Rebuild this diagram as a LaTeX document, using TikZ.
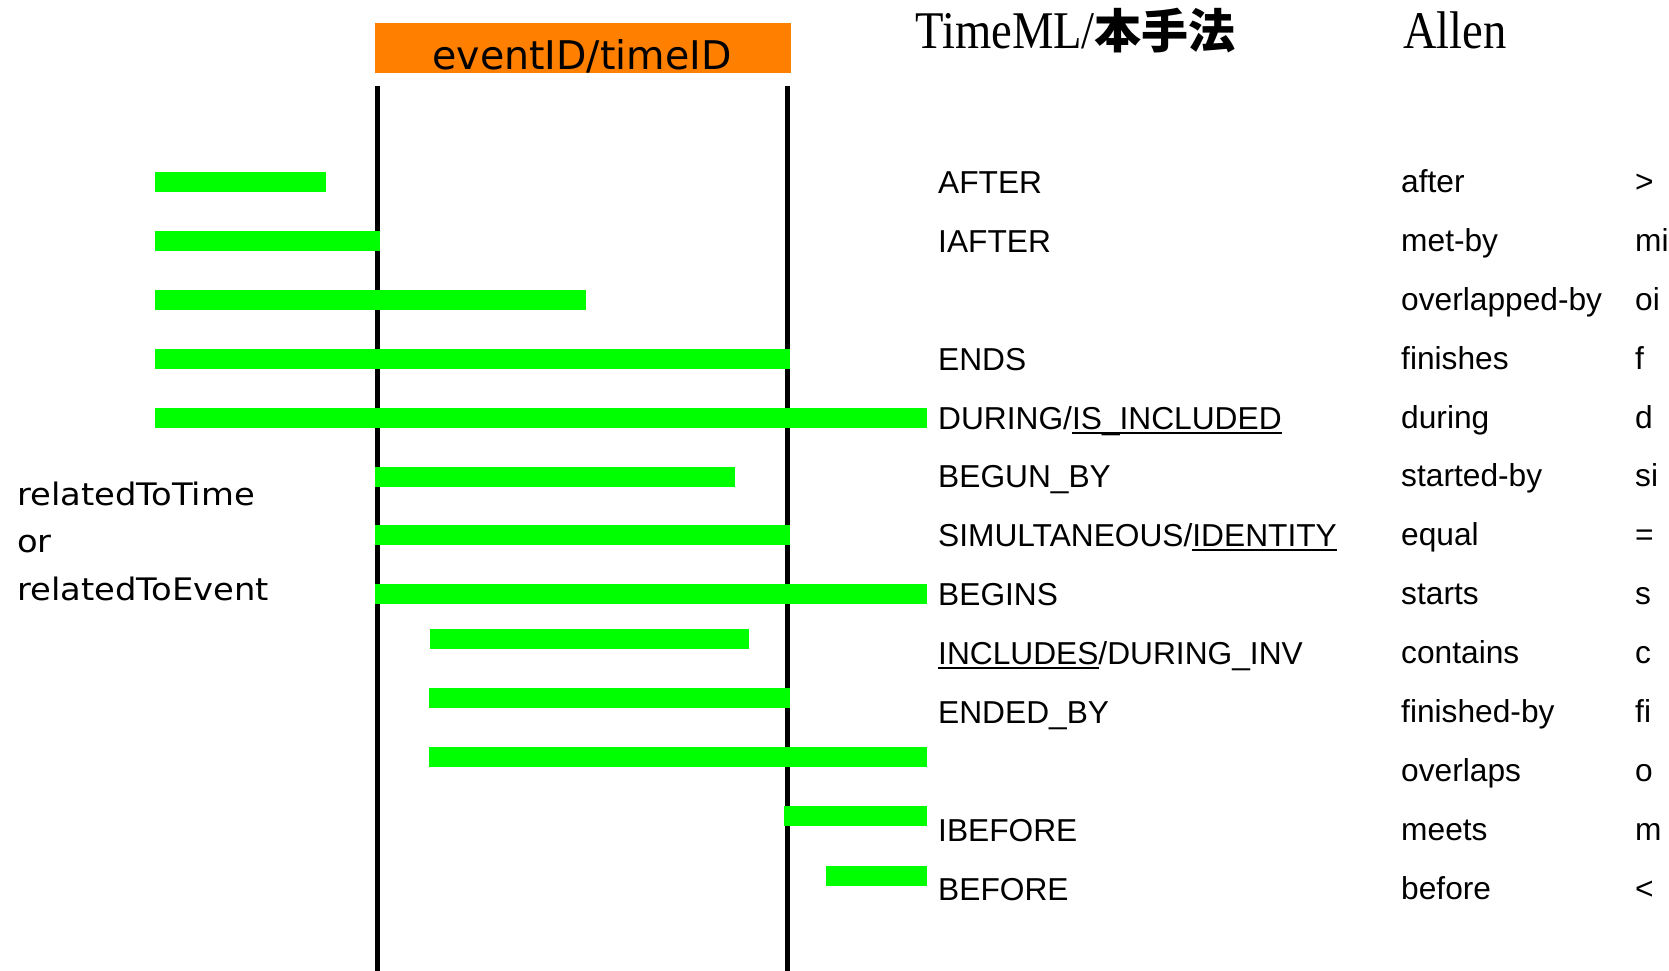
\documentclass[tikz,border=0pt]{standalone}
\usepackage{fontspec}
\setmainfont{Liberation Sans}
\newfontfamily\labfam{Liberation Sans}
\newfontfamily\hdrfam{Liberation Serif}[FakeStretch=0.88]
\newfontfamily\cjkfam{Noto Sans CJK JP}
\newfontfamily\boxfam{DejaVu Sans}
\newfontfamily\sidefam{DejaVu Sans}[FakeStretch=1.09]
\definecolor{barg}{RGB}{0,255,0}
\definecolor{boxo}{RGB}{255,128,0}
\newcommand\myul[1]{\setbox0=\hbox{#1}\rlap{\rule[-4.5pt]{\wd0}{2pt}}\box0}
\newcommand\labfont{\labfam\fontsize{31.7}{38}\selectfont}
\newcommand\greenbar[3]{\fill[bar] (#2,#1-10) rectangle (#3,#1+10);}
\begin{document}
\begin{tikzpicture}[x=1pt,y=-1pt,
  bar/.style={fill=barg},
  vline/.style={line width=5pt,draw=black},
  lab/.style={anchor=base west,inner sep=0pt,font=\labfont},
  hdr/.style={anchor=base west,inner sep=0pt},
  side/.style={anchor=base west,inner sep=0pt,font={\sidefam\fontsize{31}{37}\selectfont}}]
\useasboundingbox (0,0) rectangle (1669,970);
% orange box
\node[fill=boxo,minimum width=416pt,minimum height=50pt,inner sep=0pt,anchor=north west] (box) at (375,23) {};
\node[anchor=base,inner sep=0pt,font={\boxfam\fontsize{39.5}{46}\selectfont}] (boxlabel) at (582,69) {eventID/timeID};
% vertical lines
\coordinate (lt) at (377.5,86);
\coordinate (lb) at (377.5,975);
\coordinate (rt) at (787.5,86);
\coordinate (rb) at (787.5,975);
\draw[vline] (lt) -- (lb);
\draw[vline] (rt) -- (rb);
% bars
\greenbar{182}{155}{326}
\greenbar{241}{155}{380}
\greenbar{300}{155}{586}
\greenbar{359}{155}{790}
\greenbar{418}{155}{927}
\greenbar{477}{375}{735}
\greenbar{535}{375}{790}
\greenbar{594}{375}{927}
\greenbar{639}{430}{749}
\greenbar{698}{429}{790}
\greenbar{757}{429}{927}
\greenbar{816}{784}{927}
\greenbar{876}{826}{927}
% headers
\node[hdr] (hTimeML) at (915,48) {\hdrfam\fontsize{53}{60}\selectfont TimeML/\cjkfam\bfseries\fontsize{47}{56}\selectfont 本手法};
\node[hdr] (hAllen) at (1403,48) {\hdrfam\fontsize{53}{60}\selectfont Allen};
% left text
\node[side] (s1) at (17,505) {relatedToTime};
\node[side] (s2) at (17,552) {or};
\node[side] (s3) at (17,600) {relatedToEvent};
% TimeML labels
\node[lab] (t1) at (938,193.3) {AFTER};
\node[lab] (t2) at (938,252.3) {IAFTER};
\node[lab] (t4) at (938,370.3) {ENDS};
\node[lab] (t5) at (938,429.3) {DURING/\myul{IS\_INCLUDED}};
\node[lab] (t6) at (938,487.8) {BEGUN\_BY};
\node[lab] (t7) at (938,546.3) {SIMULTANEOUS/\myul{IDENTITY}};
\node[lab] (t8) at (938,605.3) {BEGINS};
\node[lab] (t9) at (938,664.3) {\myul{INCLUDES}/DURING\_INV};
\node[lab] (t10) at (938,723.3) {ENDED\_BY};
\node[lab] (t12) at (938,841.3) {IBEFORE};
\node[lab] (t13) at (938,900.3) {BEFORE};
% Allen labels
\node[lab] (a1) at (1401,192.3) {after};
\node[lab] (a2) at (1401,251.3) {met-by};
\node[lab] (a3) at (1401,310.3) {overlapped-by};
\node[lab] (a4) at (1401,369.3) {finishes};
\node[lab] (a5) at (1401,428.3) {during};
\node[lab] (a6) at (1401,486.8) {started-by};
\node[lab] (a7) at (1401,545.3) {equal};
\node[lab] (a8) at (1401,604.3) {starts};
\node[lab] (a9) at (1401,663.3) {contains};
\node[lab] (a10) at (1401,722.3) {finished-by};
\node[lab] (a11) at (1401,781.3) {overlaps};
\node[lab] (a12) at (1401,840.3) {meets};
\node[lab] (a13) at (1401,899.3) {before};
% symbols
\node[lab] (m1) at (1635,192.3) {>};
\node[lab] (m2) at (1635,251.3) {mi};
\node[lab] (m3) at (1635,310.3) {oi};
\node[lab] (m4) at (1635,369.3) {f};
\node[lab] (m5) at (1635,428.3) {d};
\node[lab] (m6) at (1635,486.8) {si};
\node[lab] (m7) at (1635,545.3) {=};
\node[lab] (m8) at (1635,604.3) {s};
\node[lab] (m9) at (1635,663.3) {c};
\node[lab] (m10) at (1635,722.3) {fi};
\node[lab] (m11) at (1635,781.3) {o};
\node[lab] (m12) at (1635,840.3) {m};
\node[lab] (m13) at (1635,899.3) {<};
\end{tikzpicture}
\end{document}
